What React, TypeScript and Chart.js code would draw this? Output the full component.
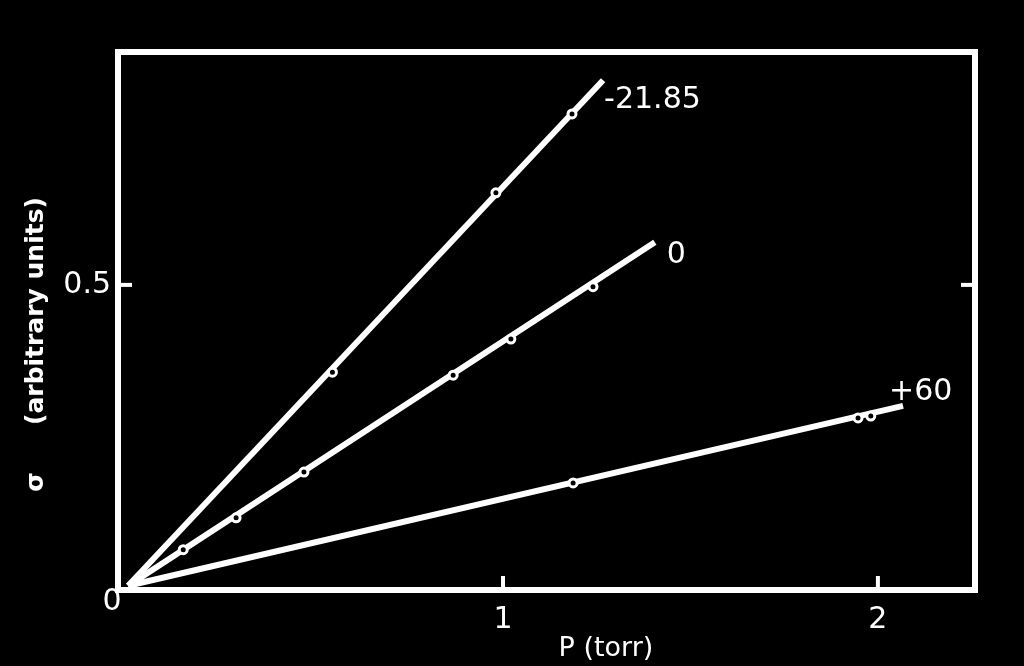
import { useEffect, useRef } from "react";
import { Chart, registerables } from "chart.js";

Chart.register(...registerables);

// ---- data ----
const X_TICKS = [1, 2];
const Y_TICKS = [0.5];
const SERIES_NAMES = ["-21.85", "0", "+60"];

// measured points (P in torr, sigma in arbitrary units)
const P_M21 = [0.545, 0.981, 1.184];
const S_M21 = [0.355, 0.653, 0.784];
const P_0 = [0.147, 0.288, 0.469, 0.867, 1.021, 1.24];
const S_0 = [0.06, 0.113, 0.189, 0.35, 0.41, 0.497];
const P_60 = [1.187, 1.947, 1.981];
const S_60 = [0.171, 0.279, 0.282];

// fitted straight lines (start and end)
const LINE_M21_P = [0, 1.267];
const LINE_M21_S = [0, 0.84];
const LINE_0_P = [0, 1.405];
const LINE_0_S = [0, 0.571];
const LINE_60_P = [0, 2.067];
const LINE_60_S = [0, 0.299];

const X_MIN = -0.027;
const X_MAX = 2.259;
const Y_MIN = -0.007;
const Y_MAX = 0.887;

const FONT = "'DejaVu Sans', sans-serif";

const toXY = (xs: number[], ys: number[]) => xs.map((v, i) => ({ x: v, y: ys[i] }));

export default function App() {
  const ref = useRef<HTMLCanvasElement>(null);

  useEffect(() => {
    const canvas = ref.current;
    if (!canvas) return;

    const lineEnds = [
      { p: LINE_M21_P, s: LINE_M21_S, dx: 1, dy: 20 },
      { p: LINE_0_P, s: LINE_0_S, dx: 12, dy: 13 },
      { p: LINE_60_P, s: LINE_60_S, dx: -14, dy: -14 },
    ];

    const decor = {
      id: "decor",
      afterDraw(chart: any) {
        const { ctx, chartArea: a, scales } = chart;
        const xs = scales.x;
        const ys = scales.y;
        ctx.save();
        ctx.strokeStyle = "#fff";
        ctx.fillStyle = "#fff";
        ctx.lineWidth = 6;
        ctx.strokeRect(a.left, a.top, a.right - a.left, a.bottom - a.top);
        ctx.lineWidth = 4;
        const seg = (x1: number, y1: number, x2: number, y2: number) => {
          ctx.beginPath();
          ctx.moveTo(x1, y1);
          ctx.lineTo(x2, y2);
          ctx.stroke();
        };
        X_TICKS.forEach((v) => {
          const px = xs.getPixelForValue(v);
          seg(px, a.bottom, px, a.bottom - 14);
        });
        Y_TICKS.forEach((v) => {
          const py = ys.getPixelForValue(v);
          seg(a.left, py, a.left + 14, py);
          seg(a.right, py, a.right - 14, py);
        });

        // origin label
        ctx.font = `30px ${FONT}`;
        ctx.textAlign = "center";
        ctx.textBaseline = "middle";
        ctx.fillText("0", xs.getPixelForValue(0) - 16, ys.getPixelForValue(0) + 16);

        // series labels
        ctx.textAlign = "left";
        lineEnds.forEach((e, i) => {
          const px = xs.getPixelForValue(e.p[1]);
          const py = ys.getPixelForValue(e.s[1]);
          ctx.fillText(SERIES_NAMES[i], px + e.dx, py + e.dy);
        });

        // x title
        ctx.textAlign = "center";
        ctx.font = `27px ${FONT}`;
        ctx.fillText("P (torr)", 606, 649);

        // y title (rotated)
        ctx.save();
        ctx.translate(36, 0);
        ctx.rotate(-Math.PI / 2);
        ctx.font = `bold 25px ${FONT}`;
        ctx.fillText("(arbitrary units)", -311, 0);
        ctx.fillText("σ", -482, 0);
        ctx.restore();

        ctx.restore();
      },
    };

    const pointStyle = {
      showLine: false,
      pointRadius: 4,
      pointBorderWidth: 3,
      pointBackgroundColor: "#000",
      pointBorderColor: "#fff",
      order: 0,
    };
    const lineStyle = {
      showLine: true,
      borderColor: "#fff",
      borderWidth: 6,
      pointRadius: 0,
      order: 1,
    };

    const chart = new Chart(canvas, {
      type: "scatter",
      data: {
        datasets: [
          { label: SERIES_NAMES[0] + " line", data: toXY(LINE_M21_P, LINE_M21_S), ...lineStyle },
          { label: SERIES_NAMES[1] + " line", data: toXY(LINE_0_P, LINE_0_S), ...lineStyle },
          { label: SERIES_NAMES[2] + " line", data: toXY(LINE_60_P, LINE_60_S), ...lineStyle },
          { label: SERIES_NAMES[0], data: toXY(P_M21, S_M21), ...pointStyle },
          { label: SERIES_NAMES[1], data: toXY(P_0, S_0), ...pointStyle },
          { label: SERIES_NAMES[2], data: toXY(P_60, S_60), ...pointStyle },
        ] as any,
      },
      options: {
        responsive: false,
        animation: false,
        layout: { padding: { top: 52, right: 49, left: 0, bottom: 0 } },
        plugins: { legend: { display: false }, tooltip: { enabled: false } },
        scales: {
          x: {
            type: "linear",
            min: X_MIN,
            max: X_MAX,
            grid: { display: false, drawTicks: false },
            border: { display: false },
            afterBuildTicks: (s: any) => {
              s.ticks = X_TICKS.map((v) => ({ value: v }));
            },
            afterFit: (s: any) => {
              s.height = 76;
            },
            ticks: {
              color: "#fff",
              font: { family: FONT, size: 30 },
              padding: 12,
              maxRotation: 0,
              autoSkip: false,
            },
          },
          y: {
            type: "linear",
            min: Y_MIN,
            max: Y_MAX,
            grid: { display: false, drawTicks: false },
            border: { display: false },
            afterBuildTicks: (s: any) => {
              s.ticks = Y_TICKS.map((v) => ({ value: v }));
            },
            afterFit: (s: any) => {
              s.width = 118;
            },
            ticks: {
              color: "#fff",
              font: { family: FONT, size: 30 },
              padding: 7,
              autoSkip: false,
            },
          },
        },
      },
      plugins: [decor],
    });

    return () => chart.destroy();
  }, []);

  return (
    <div
      style={{
        position: "fixed",
        left: 0,
        top: 0,
        width: 1024,
        height: 666,
        background: "#000",
      }}
    >
      <canvas ref={ref} width={1024} height={666} style={{ display: "block" }} />
    </div>
  );
}
